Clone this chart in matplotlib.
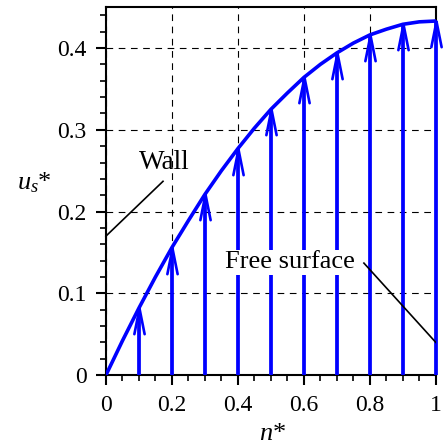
import matplotlib
matplotlib.use("Agg")
import matplotlib.pyplot as plt
from matplotlib.ticker import MultipleLocator
from matplotlib.path import Path
from matplotlib.markers import MarkerStyle

# velocity profile
n_curve = [0.0, 0.05, 0.1, 0.15, 0.2, 0.25, 0.3, 0.35, 0.4, 0.45, 0.5,
           0.55, 0.6, 0.65, 0.7, 0.75, 0.8, 0.85, 0.9, 0.95, 1.0]
u_curve = [0.0, 0.042, 0.082, 0.120, 0.156, 0.189, 0.221, 0.250, 0.277, 0.302, 0.325,
           0.345, 0.364, 0.380, 0.394, 0.406, 0.416, 0.423, 0.429, 0.432, 0.433]

# arrow positions and heights
n_arrows = [0.1, 0.2, 0.3, 0.4, 0.5, 0.6, 0.7, 0.8, 0.9, 1.0]
u_arrows = [0.082, 0.156, 0.221, 0.277, 0.325, 0.364, 0.394, 0.416, 0.429, 0.433]

plt.rcParams['font.family'] = 'serif'
plt.rcParams['font.serif'] = ['Liberation Serif', 'DejaVu Serif']
plt.rcParams['mathtext.fontset'] = 'custom'
plt.rcParams['mathtext.it'] = 'Liberation Serif:italic'
plt.rcParams['mathtext.rm'] = 'Liberation Serif'

fig = plt.figure(figsize=(4.47, 4.45), dpi=100)
ax = fig.add_axes([0.237, 0.157, 0.738, 0.827])

ax.set_xlim(0, 1)
ax.set_ylim(0, 0.45)

ax.grid(True, color='black', linestyle=(0, (6, 5)), linewidth=0.8)
ax.set_axisbelow(True)

ax.plot(n_curve, u_curve, color='blue', linewidth=2.6, solid_capstyle='round', zorder=3)

# open arrow heads, tip sits at the marker origin
head = Path([(-0.2, -1.0), (0.0, 0.0), (0.2, -1.0)],
            [Path.MOVETO, Path.LINETO, Path.LINETO])
head_marker = MarkerStyle(head, fillstyle='none', joinstyle='round', capstyle='round')

for n, u in zip(n_arrows, u_arrows):
    ax.plot([n, n], [0, u], color='blue', linewidth=2.7, solid_capstyle='butt',
            clip_on=False, zorder=4)
ax.plot(n_arrows, u_arrows, linestyle='none', marker=head_marker, markersize=37,
        markeredgewidth=1.9, color='blue', clip_on=False, zorder=4)

# labels
ax.plot([0.0, 0.173], [0.170, 0.237], color='black', linewidth=1.2, clip_on=False, zorder=5)
ax.text(0.10, 0.26, 'Wall', fontsize=19.5, ha='left', va='center', zorder=6)

ax.plot([0.782, 1.0], [0.137, 0.040], color='black', linewidth=1.2, zorder=5)
ax.text(0.558, 0.138, 'Free surface', fontsize=19, ha='center', va='center', zorder=6,
        bbox=dict(facecolor='white', edgecolor='none', pad=1))

ax.xaxis.set_minor_locator(MultipleLocator(0.05))
ax.yaxis.set_minor_locator(MultipleLocator(0.02))
ax.set_xticks([0, 0.2, 0.4, 0.6, 0.8, 1.0])
ax.set_xticklabels(['0', '0.2', '0.4', '0.6', '0.8', '1'])
ax.set_yticks([0, 0.1, 0.2, 0.3, 0.4])
ax.set_yticklabels(['0', '0.1', '0.2', '0.3', '0.4'])

ax.tick_params(which='major', direction='out', length=7, width=1.5, labelsize=17, pad=7)
ax.tick_params(which='minor', direction='out', length=4, width=1.2)

for s in ax.spines.values():
    s.set_linewidth(1.5)

ax.set_xlabel('$n$*', fontsize=19)
ax.xaxis.label.set_va('baseline')
ax.xaxis.set_label_coords(0.506, -0.176)
ax.set_ylabel('$u_s$*', fontsize=19, rotation=0, va='center', ha='center')
ax.yaxis.set_label_coords(-0.218, 0.524)

plt.savefig('out.png', dpi=100)
